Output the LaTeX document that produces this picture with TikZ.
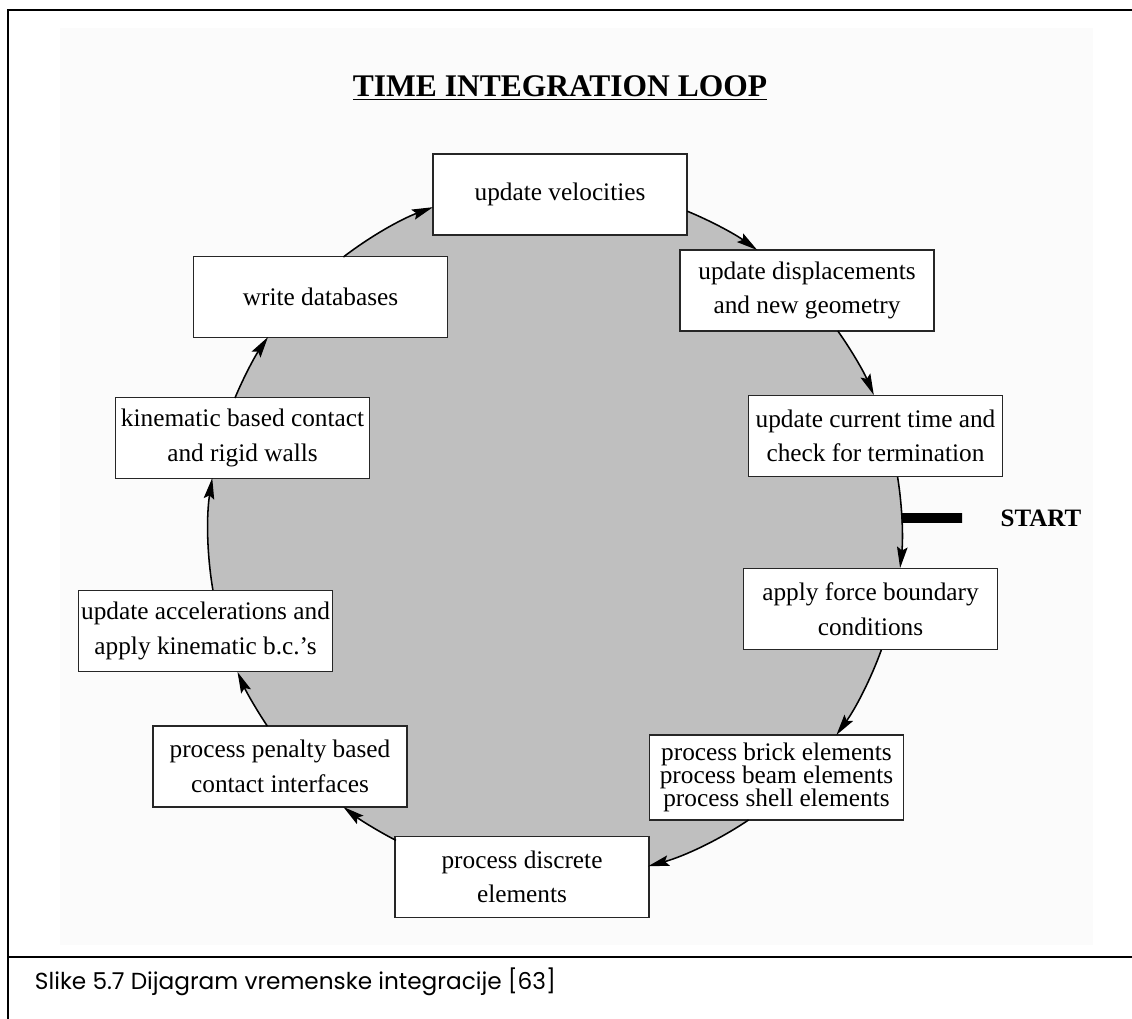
\documentclass[tikz,border=0pt]{standalone}
\usepackage{fontspec}
\setmainfont{Liberation Serif}
\newfontfamily\captionfont{Poppins}
\usetikzlibrary{arrows.meta}

\begin{document}
\begin{tikzpicture}[
      x=0.025cm, y=0.025cm,
      font=\fontsize{18}{24.5}\selectfont,
      stepbox/.style={draw=black!85, line width=1.1pt, fill=white,
                      minimum width=6.35cm, minimum height=2.025cm,
                      inner xsep=0.05cm, align=center},
      ring/.style={draw=black, line width=1.1pt,
                   -{Stealth[length=15pt, width=7.5pt, inset=2.5pt]}},
      disc/.style={fill=black!25},
      frame/.style={draw=black, line width=2.1pt},
      startbar/.style={draw=black, line width=7pt}
    ]
    \useasboundingbox (0,0) rectangle (1132,1019);

    % Page frame and caption.
    \fill[black!1.5] (60,74) rectangle (1093,991);
    \draw[frame] (8,0) -- (8,1009) -- (1132,1009);
    \draw[frame] (8,62) -- (1132,62);
    \node[anchor=base west, font=\captionfont\fontsize{16.5}{20}\selectfont]
      (caption) at (30,29) {Slike 5.7 Dijagram vremenske integracije [63]};

    % Title and the grey loop disc.
    \node[anchor=base, font=\bfseries\fontsize{22.4}{26}\selectfont]
      (title) at (560,922) {\underline{TIME INTEGRATION LOOP}};
    \coordinate (cen) at (555,487);
    \fill[disc] (cen) circle[radius=347];

    % Steps of the loop, clockwise from the top.
    \node[stepbox] (vel) at (560,824.5) {update velocities};
    \node[stepbox] (disp) at (807,728.5) {update displacements\\ and new geometry};
    \node[stepbox] (time) at (875.5,583) {update current time and\\ check for termination};
    \node[stepbox] (force) at (870.5,410) {apply force boundary\\ conditions};
    \node[stepbox, minimum height=2.125cm, font=\fontsize{18}{16.4}\selectfont]
      (elem) at (776.5,241.5)
      {process brick elements\\ process beam elements\\ process shell elements};
    \node[stepbox] (discrete) at (522,142) {process discrete\\ elements};
    \node[stepbox] (penalty) at (280,252.5) {process penalty based\\ contact interfaces};
    \node[stepbox] (accel) at (205.5,388) {update accelerations and\\ apply kinematic b.c.'s};
    \node[stepbox] (kinem) at (242.5,581) {kinematic based contact\\ and rigid walls};
    \node[stepbox] (wdb) at (320.5,722) {write databases};

    % Arcs of the loop between the boxes.
    \draw[ring] ([shift={(67.6:347)}]cen) arc[start angle=67.6, end angle=54.35, radius=347];
    \draw[ring] ([shift={(35.4:347)}]cen) arc[start angle=35.4, end angle=23.26, radius=347];
    \draw[ring] ([shift={(9.12:347)}]cen) arc[start angle=9.12, end angle=-5.96, radius=347];
    \draw[ring] ([shift={(-19.88:347)}]cen) arc[start angle=-19.88, end angle=-35.81, radius=347];
    \draw[ring] ([shift={(-56.09:347)}]cen) arc[start angle=-56.09, end angle=-74.45, radius=347];
    \draw[ring] ([shift={(-117.27:347)}]cen) arc[start angle=-117.27, end angle=-127.58, radius=347];
    \draw[ring] ([shift={(-145.99:347)}]cen) arc[start angle=-145.99, end angle=-156.2, radius=347];
    \draw[ring] ([shift={(-170.38:347)}]cen) arc[start angle=-170.38, end angle=-188.95, radius=347];
    \draw[ring] ([shift={(157.28:347)}]cen) arc[start angle=157.28, end angle=145.81, radius=347];
    \draw[ring] ([shift={(127.58:347)}]cen) arc[start angle=127.58, end angle=110.59, radius=347];

    % Entry point.
    \node[font=\bfseries\fontsize{17.8}{20}\selectfont] (start) at (1041,501) {START};
    \coordinate (barstart) at ([shift={(2.3:347)}]cen);
    \coordinate (barend) at (962,501);
    \draw[startbar] (barstart) -- (barend);
  \end{tikzpicture}
\end{document}
